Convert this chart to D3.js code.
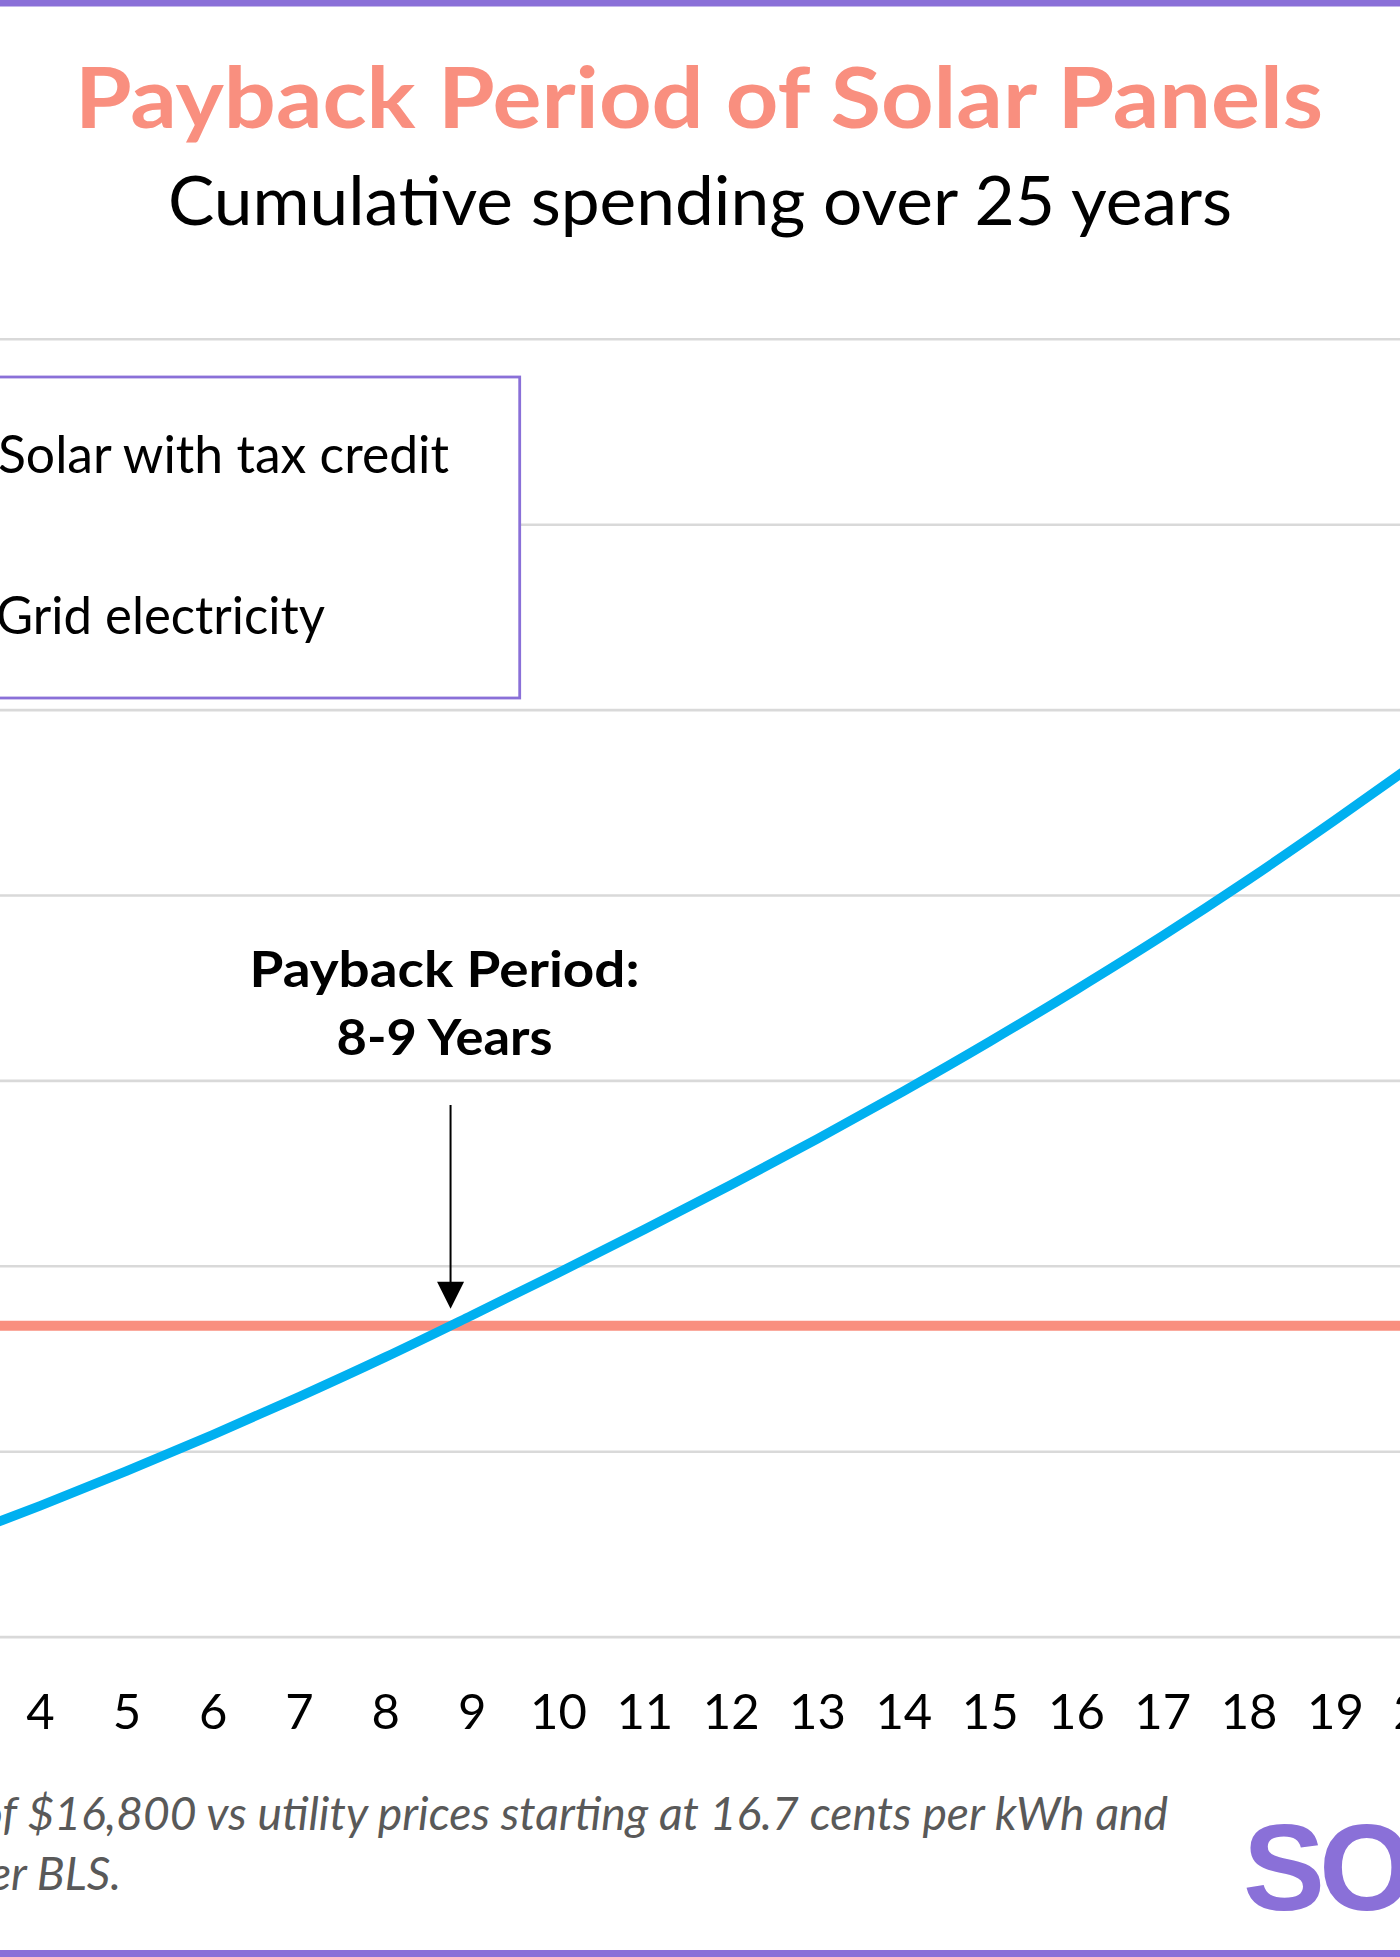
<!DOCTYPE html>
<html>
<head>
<meta charset="utf-8">
<script src="https://cdn.jsdelivr.net/npm/d3@7"></script>
<style>
  html, body { margin: 0; padding: 0; background: #ffffff; }
  svg { display: block; }
</style>
</head>
<body>
<div id="chart"></div>
<script>
// ---------------- DATA ----------------
const years = [1, 2, 3, 4, 5, 6, 7, 8, 9, 10, 11, 12, 13, 14, 15, 16, 17, 18, 19, 20];
const gridElectricity = [1820, 3560, 5290, 7080, 8950, 10910, 12960, 15100, 17350, 19640,
                         21980, 24380, 26860, 29440, 32120, 34910, 37810, 40860, 44060, 47360];
const solarWithTaxCredit = [16800, 16800, 16800, 16800, 16800, 16800, 16800, 16800, 16800, 16800,
                            16800, 16800, 16800, 16800, 16800, 16800, 16800, 16800, 16800, 16800];
const yTicks = [0, 10000, 20000, 30000, 40000, 50000, 60000, 70000];
const xTickYears = [4, 5, 6, 7, 8, 9, 10, 11, 12, 13, 14, 15, 16, 17, 18, 19, 20];
const xTickLabels = xTickYears.map(String);
const seriesNames = ["Solar with tax credit", "Grid electricity"];

const titleText = "Payback Period of Solar Panels";
const subtitleText = "Cumulative spending over 25 years";
const annotationLines = ["Payback Period:", "8-9 Years"];
const footnoteLines = [
  "Assumes a system cost after the tax credit of $16,800 vs utility prices starting at 16.7 cents per kWh and",
  "rising 2.2% per year per BLS."
];
const logoText = "SOLAR";

// ---------------- STYLE ----------------
const W = 1400, H = 1957;
const PURPLE = "#8a70d8", SALMON = "#f98f7f", BLUE = "#00b0f0", GRID = "#d9d9d9";
const FONT = "Lato, 'Noto Sans', sans-serif";

const svg = d3.select("#chart").append("svg")
  .attr("width", W).attr("height", H)
  .attr("viewBox", `0 0 ${W} ${H}`);

svg.append("rect").attr("x", 0).attr("y", 0).attr("width", W).attr("height", H).attr("fill", "#fff");

// scales
const STEP = 86.33;
const x = d3.scalePoint().domain(years).range([40 - 3 * STEP, 40 + 16 * STEP]);
const y = d3.scaleLinear().domain([0, 70000]).range([1637.1, 339.3]);

// gridlines
svg.append("g").selectAll("line").data(yTicks).join("line")
  .attr("x1", 0).attr("x2", W)
  .attr("y1", d => y(d)).attr("y2", d => y(d))
  .attr("stroke", GRID).attr("stroke-width", 2.6);

// x axis (labels only)
const xAxis = d3.axisBottom(x).tickSize(0).tickValues(xTickYears)
  .tickFormat((d, i) => xTickLabels[i]);
const gx = svg.append("g").attr("transform", `translate(0,${y(0)})`).call(xAxis);
gx.select(".domain").remove();
gx.selectAll("text")
  .attr("y", 1729 - y(0)).attr("dy", 0)
  .attr("fill", "#000")
  .style("font-family", FONT).style("font-size", "49px");

// lines
const line = d3.line().x((d, i) => x(years[i])).y(d => y(d)).curve(d3.curveMonotoneX);
svg.append("path").datum(solarWithTaxCredit)
  .attr("d", line).attr("fill", "none")
  .attr("stroke", SALMON).attr("stroke-width", 10);
svg.append("path").datum(gridElectricity)
  .attr("d", line).attr("fill", "none")
  .attr("stroke", BLUE).attr("stroke-width", 9.5)
  .attr("stroke-linejoin", "round");

// payback crossing
let px = null;
for (let i = 0; i < years.length - 1; i++) {
  const a = gridElectricity[i] - solarWithTaxCredit[i];
  const b = gridElectricity[i + 1] - solarWithTaxCredit[i + 1];
  if (a < 0 && b >= 0) {
    const t = -a / (b - a);
    px = x(years[i]) + t * (x(years[i + 1]) - x(years[i]));
    break;
  }
}
const crossY = y(solarWithTaxCredit[0]);
const tipY = crossY - 17;
svg.append("line")
  .attr("x1", px).attr("x2", px).attr("y1", 1105).attr("y2", tipY - 20)
  .attr("stroke", "#000").attr("stroke-width", 2);
svg.append("path")
  .attr("d", `M${px - 13.5},${tipY - 27} L${px + 13.5},${tipY - 27} L${px},${tipY} Z`)
  .attr("fill", "#000");

// helper to fit text width
function fit(sel, w) {
  sel.attr("textLength", w).attr("lengthAdjust", "spacingAndGlyphs");
  return sel;
}

// annotation
const annBaselines = [987, 1055];
const annWidths = [390, 216];
annotationLines.forEach((t, i) => {
  fit(svg.append("text")
    .attr("x", px - 6).attr("y", annBaselines[i])
    .attr("text-anchor", "middle")
    .style("font-family", FONT).style("font-weight", 700).style("font-size", "49px")
    .attr("fill", "#000").text(t), annWidths[i]);
});

// legend
svg.append("rect")
  .attr("x", -20).attr("y", 377).attr("width", 539.7).attr("height", 321)
  .attr("fill", "#fff").attr("stroke", PURPLE).attr("stroke-width", 2.8);
const legColors = [SALMON, BLUE];
const legBaselines = [473, 634];
const legStarts = [-2, -4];
const legWidths = [451, 329];
seriesNames.forEach((name, i) => {
  svg.append("line")
    .attr("x1", -80).attr("x2", -20)
    .attr("y1", legBaselines[i] - 18).attr("y2", legBaselines[i] - 18)
    .attr("stroke", legColors[i]).attr("stroke-width", 10);
  fit(svg.append("text")
    .attr("x", legStarts[i]).attr("y", legBaselines[i])
    .style("font-family", FONT).style("font-size", "52px")
    .attr("fill", "#000").text(name), legWidths[i]);
});

// title & subtitle
fit(svg.append("text")
  .attr("x", 699).attr("y", 128.3).attr("text-anchor", "middle")
  .style("font-family", FONT).style("font-weight", 700).style("font-size", "84px")
  .attr("fill", SALMON).text(titleText), 1248);
fit(svg.append("text")
  .attr("x", 700).attr("y", 225).attr("text-anchor", "middle")
  .style("font-family", FONT).style("font-size", "67px")
  .attr("fill", "#000").text(subtitleText), 1064);

// footnote: size chosen so visible part spans the measured width
const FOOT_END = 1168, FOOT_DOLLAR = 27;
const probeStr = footnoteLines[0].slice(footnoteLines[0].indexOf("$"));
const probe = svg.append("text")
  .style("font-family", FONT).style("font-style", "italic").style("font-size", "100px")
  .text(probeStr);
const probeW = probe.node().getComputedTextLength();
probe.remove();
const footSize = 100 * (FOOT_END - FOOT_DOLLAR) / probeW;
const footEnds = [FOOT_END, 121];
const footBaselines = [1830, 1890];
footnoteLines.forEach((t, i) => {
  svg.append("text")
    .attr("x", footEnds[i]).attr("y", footBaselines[i])
    .attr("text-anchor", "end")
    .style("font-family", FONT).style("font-style", "italic")
    .style("font-size", footSize + "px")
    .attr("fill", "#595959").text(t);
});

// logo
svg.append("text")
  .attr("x", 1243).attr("y", 1910)
  .style("font-family", "'Liberation Sans', Arial, sans-serif")
  .style("font-weight", 700).style("font-size", "123px")
  .style("letter-spacing", "-6px")
  .attr("fill", PURPLE).text(logoText);

// top and bottom bars
svg.append("rect").attr("x", 0).attr("y", 0).attr("width", W).attr("height", 6.5).attr("fill", PURPLE);
svg.append("rect").attr("x", 0).attr("y", 1950).attr("width", W).attr("height", 7).attr("fill", PURPLE);
</script>
</body>
</html>
